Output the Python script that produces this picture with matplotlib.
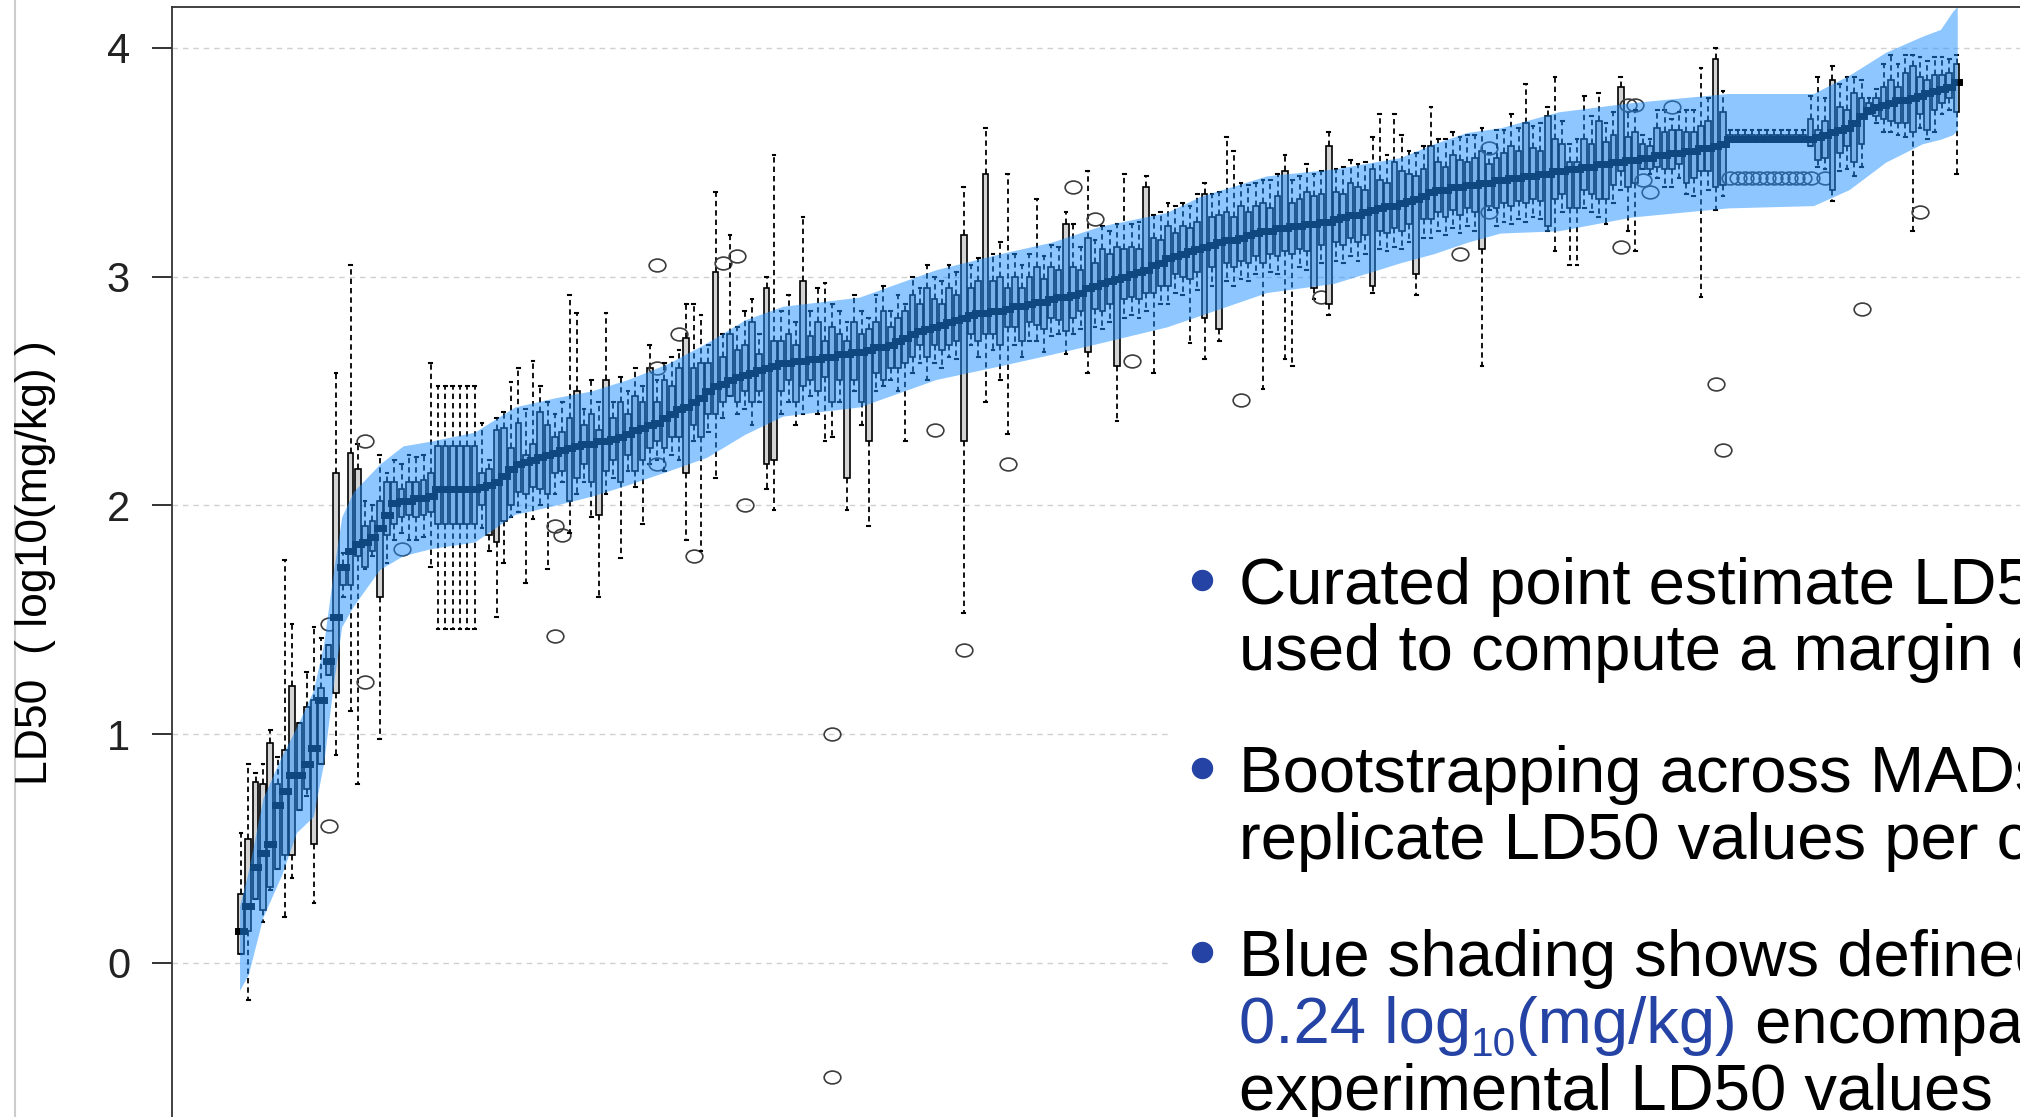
import numpy as np
import matplotlib
matplotlib.use('Agg')
import matplotlib.pyplot as plt
from matplotlib.path import Path
from matplotlib.patches import Rectangle
from matplotlib.lines import Line2D

plt.rcParams['font.family'] = ['Liberation Sans', 'DejaVu Sans']

# per-chemical bootstrap medians, sorted (log10 mg/kg)
med = [
    0.14, 0.25, 0.42, 0.48, 0.52, 0.69, 0.75, 0.82, 0.82, 0.87,
    0.94, 1.15, 1.32, 1.51, 1.73, 1.80, 1.83, 1.84, 1.86, 1.90,
    1.96, 2.01, 2.02, 2.02, 2.03, 2.03, 2.04, 2.07, 2.07, 2.07,
    2.07, 2.07, 2.07, 2.08, 2.09, 2.10, 2.13, 2.16, 2.18, 2.19,
    2.20, 2.21, 2.22, 2.23, 2.24, 2.25, 2.26, 2.27, 2.27, 2.28,
    2.28, 2.29, 2.30, 2.31, 2.33, 2.34, 2.35, 2.36, 2.38, 2.40,
    2.42, 2.43, 2.45, 2.47, 2.50, 2.52, 2.53, 2.55, 2.56, 2.57,
    2.58, 2.59, 2.60, 2.61, 2.62, 2.62, 2.63, 2.63, 2.64, 2.64,
    2.65, 2.65, 2.66, 2.66, 2.67, 2.67, 2.68, 2.69, 2.69, 2.70,
    2.72, 2.73, 2.75, 2.76, 2.77, 2.78, 2.79, 2.80, 2.81, 2.82,
    2.83, 2.84, 2.84, 2.85, 2.85, 2.86, 2.87, 2.87, 2.88, 2.89,
    2.89, 2.90, 2.91, 2.91, 2.92, 2.93, 2.95, 2.96, 2.97, 2.98,
    2.99, 3.00, 3.01, 3.02, 3.03, 3.05, 3.06, 3.08, 3.09, 3.10,
    3.11, 3.12, 3.13, 3.14, 3.15, 3.16, 3.16, 3.17, 3.18, 3.19,
    3.20, 3.20, 3.21, 3.21, 3.22, 3.22, 3.23, 3.23, 3.24, 3.24,
    3.25, 3.26, 3.27, 3.27, 3.28, 3.29, 3.30, 3.31, 3.31, 3.32,
    3.33, 3.34, 3.35, 3.37, 3.38, 3.38, 3.39, 3.39, 3.40, 3.40,
    3.41, 3.41, 3.42, 3.42, 3.43, 3.43, 3.44, 3.44, 3.45, 3.45,
    3.46, 3.46, 3.47, 3.47, 3.48, 3.48, 3.49, 3.49, 3.50, 3.50,
    3.51, 3.51, 3.52, 3.52, 3.53, 3.53, 3.54, 3.54, 3.55, 3.55,
    3.56, 3.56, 3.57, 3.58, 3.60, 3.60, 3.60, 3.60, 3.60, 3.60,
    3.60, 3.60, 3.60, 3.60, 3.60, 3.60, 3.61, 3.62, 3.63, 3.64,
    3.65, 3.67, 3.70, 3.73, 3.74, 3.75, 3.76, 3.77, 3.77, 3.78,
    3.79, 3.80, 3.81, 3.82, 3.83, 3.85]

# distance median -> Q1 and Q3 -> median
iqr_dn = [
    .10, .11, .14, .25, .19, .28, .28, .35, .15, .11,
    .42, .28, .06, .33, .08, .15, .05, .11, .06, .30,
    .09, .09, .07, .06, .08, .07, .07, .15, .15, .15,
    .15, .15, .15, .08, .22, .26, .20, .16, .12, .14,
    .12, .14, .17, .09, .09, .23, .14, .09, .17, .32,
    .13, .09, .20, .09, .18, .14, .10, .08, .13, .10,
    .12, .29, .10, .17, .10, .12, .08, .07, .11, .07,
    .13, .09, .42, .41, .12, .07, .18, .11, .09, .14,
    .09, .20, .11, .54, .12, .22, .40, .11, .14, .10,
    .12, .11, .10, .06, .12, .08, .11, .10, .09, .54,
    .08, .12, .09, .10, .15, .08, .09, .15, .08, .10,
    .12, .08, .10, .15, .10, .08, .28, .10, .12, .10,
    .38, .10, .10, .12, .10, .12, .10, .12, .08, .10,
    .12, .10, .31, .10, .38, .10, .12, .10, .12, .10,
    .14, .10, .12, .10, .12, .10, .12, .28, .10, .36,
    .10, .12, .10, .12, .10, .33, .10, .12, .10, .12,
    .10, .33, .10, .12, .10, .12, .10, .12, .10, .12,
    .29, .10, .12, .10, .12, .10, .12, .10, .12, .23,
    .12, .10, .17, .17, .10, .12, .15, .15, .10, .04,
    .12, .10, .05, .05, .05, .06, .07, .05, .14, .12,
    .10, .10, .18, .18, 0, 0, 0, 0, 0, 0,
    0, 0, 0, 0, 0, .03, .10, .10, .25, .10,
    .08, .17, .12, .02, .04, .06, .08, .10, .10, .15,
    .08, .16, .08, .06, .05, .13]
iqr_up = [
    .16, .29, .37, .30, .44, .09, .18, .39, .23, .25,
    .21, .05, .07, .63, .01, .43, .33, .07, .07, .12,
    .14, .09, .05, .08, .07, .08, .10, .19, .19, .19,
    .19, .19, .19, .06, .07, .23, .21, .09, .18, .03,
    .07, .20, .13, .07, .08, .13, .24, .08, .13, .05,
    .27, .09, .15, .09, .15, .11, .25, .09, .17, .12,
    .18, .30, .15, .15, .12, .50, .12, .20, .12, .13,
    .22, .07, .35, .11, .10, .13, .07, .35, .10, .16,
    .07, .13, .09, .06, .13, .08, .09, .11, .16, .08,
    .10, .12, .17, .12, .18, .12, .09, .15, .11, .36,
    .12, .14, .61, .13, .15, .09, .13, .08, .12, .15,
    .10, .14, .12, .32, .12, .10, .22, .10, .15, .12,
    .14, .12, .12, .10, .36, .12, .10, .14, .10, .12,
    .10, .12, .23, .12, .12, .12, .10, .14, .10, .12,
    .12, .10, .14, .25, .10, .12, .14, .12, .12, .33,
    .12, .10, .14, .12, .10, .18, .12, .10, .19, .14,
    .12, .10, .12, .20, .12, .10, .14, .12, .10, .12,
    .14, .08, .10, .12, .14, .12, .23, .12, .10, .25,
    .14, .12, .03, .03, .12, .10, .19, .10, .12, .33,
    .10, .12, .06, .05, .12, .10, .10, .10, .08, .08,
    .10, .12, .38, .14, .02, .02, .02, .02, .02, .02,
    .02, .02, .02, .02, .02, .09, .03, .06, .23, .10,
    .08, .13, .08, .03, .04, .08, .10, .06, .12, .14,
    .08, .06, .07, .06, .06, .08]

# whisker length below Q1 and above Q3
wsk_dn = [
    0, .30, 0, .05, .01, 0, .27, .10, 0, .03,
    .26, 0, 0, .27, .05, .55, 1.0, .01, .02, .62,
    .12, .07, .07, .11, .10, .10, .24, .46, .46, .46,
    .46, .46, .46, .10, .07, .33, .18, .05, .09, .39,
    .14, .07, .33, .09, .05, .14, .07, .08, .15, .36,
    .10, .08, .33, .07, .07, .28, .07, .08, .10, .08,
    .10, .29, .07, .50, .08, .28, .07, 0, .05, .08,
    .10, .05, .11, .22, .10, .10, .10, .12, .07, .10,
    .28, .15, .10, .14, .05, .10, .37, .08, .03, .05,
    .10, .34, .07, .08, .10, .08, .08, .05, .08, .75,
    .05, .07, .30, .07, .15, .47, .08, .07, .08, .07,
    .10, .08, .06, .10, .07, .08, .09, .08, .08, .08,
    .24, .08, .08, .08, .08, .35, .08, .08, .08, .08,
    .28, .08, .18, .08, .05, .08, .08, .08, .08, .08,
    .55, .08, .08, .47, .49, .08, .08, .05, .08, .05,
    .08, .08, .08, .08, .08, .03, .08, .08, .08, .08,
    .08, .09, .08, .08, .08, .08, .08, .08, .08, .08,
    .51, .02, .08, .08, .08, .08, .08, .08, .08, .02,
    .23, .08, .25, .25, .08, .08, .08, .11, .08, .08,
    .19, .30, 0, .02, .05, .08, .08, .06, .05, .08,
    .55, .08, .10, .05, 0, 0, 0, 0, 0, 0,
    0, 0, 0, 0, 0, 0, .03, .05, .05, .08,
    .10, .06, .10, 0, .03, .06, .05, .05, .06, .43,
    .06, .04, .10, .05, .05, .27]
wsk_up = [
    .27, .33, .04, .09, .06, .12, .83, .27, 0, .15,
    .32, .22, 0, .44, .05, .82, .11, .11, .07, .20,
    .04, .10, .11, .12, .11, .11, .48, .26, .26, .26,
    .26, .26, .26, .22, .04, .05, .07, .29, .24, .20,
    .36, .11, .10, .10, .13, .54, .34, .07, .15, .12,
    .29, .07, .11, .10, .12, .07, .10, .10, .07, .13,
    .08, .15, .28, .21, .08, .35, .10, .43, .10, .15,
    .10, .09, .05, .81, .13, .17, .10, .28, .11, .15,
    .25, .10, .10, .08, .12, .10, .05, .12, .11, .07,
    .10, .03, .08, .07, .10, .10, .10, .10, .10, .21,
    .10, .10, .20, .12, .15, .50, .10, .10, .10, .30,
    .10, .10, .10, .05, .19, .10, .29, .10, .10, .10,
    .10, .33, .10, .12, .05, .10, .12, .10, .12, .10,
    .10, .12, .05, .10, .10, .33, .29, .10, .12, .10,
    .10, .12, .10, .07, .10, .10, .12, .10, .10, .06,
    .10, .12, .10, .10, .12, .14, .29, .12, .21, .16,
    .10, .10, .10, .17, .10, .12, .10, .10, .12, .10,
    .10, .05, .12, .10, .14, .10, .17, .10, .12, .04,
    .27, .10, .08, .10, .19, .12, .12, .08, .10, .04,
    .11, .10, .04, .03, .08, .10, .05, .08, .10, .10,
    .25, .10, .05, .09, .02, .02, .02, .02, .02, .02,
    .02, .02, .02, .02, .02, .10, .23, .10, .06, .10,
    .14, .07, .08, .02, .04, .10, .11, .10, .08, .05,
    .09, .08, .08, .08, .06, .04]

# outlying replicate values (box number, value)
outlier_idx = [13, 13, 18, 18, 23, 44, 44, 45, 58, 58,
               58, 61, 63, 67, 69, 70, 82, 82, 96, 100,
               106, 115, 118, 123, 138, 149, 168, 172, 172, 190,
               191, 192, 193, 194, 197, 203, 204,
               205, 206, 207, 208, 209, 210, 211, 212, 213, 214, 215, 216,
               218, 223, 231]
outlier_val = [1.48, 0.60, 2.28, 1.23, 1.81, 1.43, 1.91, 1.87, 2.60, 3.05,
               2.18, 2.75, 1.78, 3.06, 3.09, 2.00, 1.00, -0.50, 2.33, 1.37,
               2.18, 3.39, 3.25, 2.63, 2.46, 2.91, 3.10, 3.56, 3.28, 3.13,
               3.75, 3.75, 3.42, 3.37, 3.74, 2.53, 2.24,
               3.43, 3.43, 3.43, 3.43, 3.43, 3.43, 3.43, 3.43, 3.43, 3.43, 3.43, 3.43,
               3.43, 2.86, 3.28]

# margin band (box number, lower/upper edge)
band_x = [0.8, 2, 4, 6.5, 8.6, 10.9, 12.3, 13.7, 14.8, 16.4,
          20, 23.2, 26.9, 33, 38.5, 44, 49, 54, 59.5, 64.8,
          70, 75.2, 85.7, 96.2, 105, 112, 118.7, 127.8, 132.4, 141.5,
          150.7, 159.8, 164.4, 169, 173.5, 181.5, 191.5, 198, 204.7, 216.4,
          221.3, 226.3, 231.3, 233.8, 235.5, 236.1]
band_hi = [0.25, 0.40, 0.72, 0.90, 1.03, 1.19, 1.39, 1.72, 1.95, 2.06,
           2.18, 2.26, 2.28, 2.32, 2.43, 2.47, 2.50, 2.55, 2.62, 2.71,
           2.81, 2.87, 2.91, 3.03, 3.10, 3.15, 3.22, 3.28, 3.35, 3.44,
           3.47, 3.52, 3.58, 3.63, 3.65, 3.72, 3.76, 3.78, 3.80, 3.80,
           3.88, 3.98, 4.05, 4.08, 4.16, 4.18]
band_lo = [-0.12, -0.05, 0.20, 0.38, 0.57, 0.64, 0.87, 1.23, 1.47, 1.56,
           1.72, 1.78, 1.81, 1.84, 1.96, 2.00, 2.04, 2.09, 2.15, 2.21,
           2.31, 2.39, 2.43, 2.55, 2.61, 2.66, 2.71, 2.78, 2.83, 2.93,
           2.97, 3.06, 3.10, 3.15, 3.19, 3.20, 3.26, 3.28, 3.30, 3.31,
           3.38, 3.50, 3.58, 3.60, 3.62, 3.64]

yticks = [0, 1, 2, 3, 4]
ylab = 'LD50  ( log10(mg/kg) )'

n = len(med)
assert len(iqr_dn) == n and len(iqr_up) == n and len(wsk_dn) == n and len(wsk_up) == n
assert len(outlier_idx) == len(outlier_val)
assert len(band_x) == len(band_hi) == len(band_lo)

stats = []
for k in range(n):
    q1 = med[k] - iqr_dn[k]
    q3 = med[k] + iqr_up[k]
    fl = [v for i, v in zip(outlier_idx, outlier_val) if i == k + 1]
    stats.append(dict(med=med[k], q1=q1, q3=q3,
                      whislo=q1 - wsk_dn[k], whishi=q3 + wsk_up[k], fliers=fl))

W, H = 2020, 1117
fig = plt.figure(figsize=(W / 100, H / 100), dpi=100)
ax = fig.add_axes([172 / W, (H - 1168.9) / H, (2100 - 172) / W, (1168.9 - 7) / H])

circ = Path.unit_circle()
oval = Path(circ.vertices * [1.3, 1.0], circ.codes)

ax.bxp(stats, positions=np.arange(1, n + 1), widths=0.78, capwidths=0.38,
       patch_artist=True, manage_ticks=False,
       boxprops=dict(facecolor='#D3D3D3', edgecolor='black', linewidth=1.2),
       whiskerprops=dict(color='black', linestyle=(0, (3, 2.2)), linewidth=1.3),
       capprops=dict(color='black', linewidth=1.5),
       medianprops=dict(color='black', linewidth=5, solid_capstyle='projecting'),
       flierprops=dict(marker=oval, markersize=12, markerfacecolor='none',
                       markeredgecolor='#3c3c3c', markeredgewidth=1.2, linestyle='none'))

ax.fill_between(band_x, band_lo, band_hi, color='#1E90FF', alpha=0.5, lw=0, zorder=10)

ax.set_xlim(1 - 69 / 7.3, 1 + 1859 / 7.3)
ax.set_ylim(-0.9, 4.178)
ax.set_yticks(yticks)
ax.set_xticks([])
ax.yaxis.grid(True, linestyle=(0, (4, 3.5)), color='#D0D0D0', linewidth=1.0)
ax.set_axisbelow(True)
ax.tick_params(axis='y', labelsize=30, length=14.4, width=1.3, pad=15.8, colors='#222222')
for s in ax.spines.values():
    s.set_color('#333333')
    s.set_linewidth(1.3)

# slide furniture
fig.add_artist(Line2D([15 / W, 15 / W], [0, 1], color='#CCCCCC', lw=1.5, transform=fig.transFigure))
fig.add_artist(Rectangle((1170 / W, 0), 1, (H - 545) / H, facecolor='white',
                         edgecolor='none', transform=fig.transFigure, zorder=1))

fig.text(36 / W, 1 - 563 / H, ylab, rotation=90, ha='center', va='center', fontsize=32)

blue = '#2443A4'
fs = 47
r = fig.canvas.get_renderer()


def put(x, y, s, **kw):
    t = fig.text(x / W, 1 - y / H, s, va='baseline', zorder=5, **kw)
    return t.get_window_extent(renderer=r).x1


for yb in [580, 768, 952]:
    fig.add_artist(Line2D([1202 / W], [1 - yb / H], marker='o', ms=14.4, color=blue,
                          lw=0, transform=fig.transFigure, zorder=5))

put(1239, 604, 'Curated point estimate LD50', fontsize=fs)
put(1239, 670, 'used to compute a margin of', fontsize=fs)
put(1239, 792, 'Bootstrapping across MADs', fontsize=fs)
put(1239, 859, 'replicate LD50 values per chemical', fontsize=fs)
put(1239, 976, 'Blue shading shows defined', fontsize=fs)
x = put(1239, 1043, '0.24 log', fontsize=fs, color=blue)
x = put(x, 1056, '10', fontsize=fs * 0.62, color=blue)
x = put(x, 1043, '(mg/kg)', fontsize=fs, color=blue)
put(x, 1043, ' encompassing', fontsize=fs)
put(1239, 1110, 'experimental LD50 values', fontsize=fs)

fig.savefig('out.png', dpi=100)
